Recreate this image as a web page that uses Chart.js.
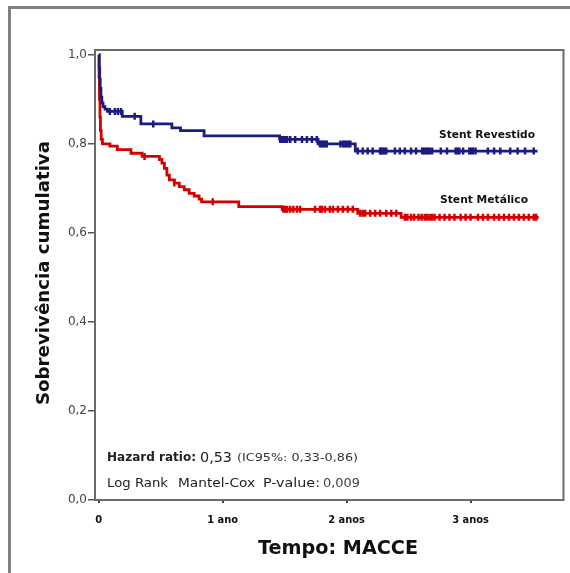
<!DOCTYPE html>
<html><head><meta charset="utf-8">
<script src="https://cdn.jsdelivr.net/npm/chart.js@4"></script>
<style>html,body{margin:0;padding:0;background:#fff;overflow:hidden}</style>
</head><body>
<canvas id="c" width="570" height="573"></canvas>
<script>
// Kaplan-Meier step data (time in years, cumulative survival)
const revestidoTimes = [0, 0.004, 0.008, 0.012, 0.018, 0.025, 0.035, 0.05, 0.07, 0.19, 0.34, 0.59, 0.66, 0.85, 1.46, 1.77, 2.07, 3.54];
const revestidoSurv  = [1.0, 0.97, 0.945, 0.925, 0.905, 0.892, 0.884, 0.878, 0.873, 0.862, 0.845, 0.836, 0.830, 0.818, 0.810, 0.800, 0.784, 0.784];
const revestidoCensored = [0.09, 0.13, 0.155, 0.18, 0.29, 0.44, 1.465, 1.475, 1.49, 1.505, 1.52, 1.545, 1.585, 1.64, 1.68, 1.72, 1.76, 1.785, 1.80, 1.81, 1.825, 1.84, 1.95, 1.97, 1.985, 2.0, 2.015, 2.03, 2.09, 2.13, 2.17, 2.21, 2.27, 2.28, 2.29, 2.305, 2.32, 2.39, 2.43, 2.47, 2.52, 2.56, 2.61, 2.625, 2.64, 2.655, 2.67, 2.69, 2.76, 2.81, 2.88, 2.895, 2.91, 2.94, 2.99, 3.005, 3.02, 3.04, 3.14, 3.19, 3.24, 3.32, 3.38, 3.44, 3.51];

const metalicoTimes = [0, 0.003, 0.006, 0.01, 0.014, 0.02, 0.03, 0.09, 0.15, 0.26, 0.35, 0.49, 0.51, 0.53, 0.55, 0.57, 0.61, 0.65, 0.69, 0.73, 0.77, 0.81, 0.83, 1.13, 1.48, 2.09, 2.44, 3.55];
const metalicoSurv  = [1.0, 0.95, 0.90, 0.86, 0.83, 0.81, 0.80, 0.795, 0.787, 0.779, 0.772, 0.765, 0.757, 0.745, 0.730, 0.719, 0.712, 0.704, 0.697, 0.689, 0.683, 0.676, 0.670, 0.659, 0.653, 0.644, 0.635, 0.635];
const metalicoCensored = [0.37, 0.61, 0.92, 1.49, 1.505, 1.52, 1.545, 1.57, 1.6, 1.625, 1.745, 1.785, 1.80, 1.825, 1.865, 1.89, 1.93, 1.97, 2.01, 2.05, 2.11, 2.13, 2.15, 2.19, 2.23, 2.27, 2.32, 2.36, 2.40, 2.47, 2.49, 2.52, 2.545, 2.58, 2.605, 2.63, 2.65, 2.67, 2.69, 2.71, 2.75, 2.79, 2.83, 2.87, 2.92, 2.96, 3.0, 3.06, 3.1, 3.14, 3.19, 3.23, 3.27, 3.31, 3.35, 3.39, 3.43, 3.47, 3.51, 3.53];

const xTickValues = [0, 1, 2, 3];
const xTickLabels = ['0', '1 ano', '2 anos', '3 anos'];
const yTickValues = [0, 0.2, 0.4, 0.6, 0.8, 1.0];
const seriesNames = ['Stent Revestido', 'Stent Metálico'];

const BLUE = '#1b1b80', RED = '#d20000';

function stepPoints(ts, ss){ return ts.map((t,i)=>({x:t,y:ss[i]})); }
function survAt(ts, ss, t){ let v = ss[0]; for(let i=0;i<ts.length;i++){ if(ts[i]<=t) v = ss[i]; } return v; }
function censorPoints(cs, ts, ss){ return cs.map(t=>({x:t,y:survAt(ts,ss,t)})); }

// draw text left-aligned at x, horizontally fitted to a target width
function fitText(ctx, text, x, y, w){
  const m = ctx.measureText(text).width;
  ctx.save(); ctx.translate(x, y); ctx.scale(w / m, 1);
  ctx.textAlign = 'left'; ctx.fillText(text, 0, 0); ctx.restore();
}

const decor = {
  id:'decor',
  beforeDraw(chart){
    const ctx = chart.ctx;
    ctx.save();
    ctx.fillStyle = '#fff'; ctx.fillRect(0,0,chart.width,chart.height);
    ctx.strokeStyle = '#7f7f7f'; ctx.lineWidth = 3;
    ctx.beginPath(); ctx.moveTo(9.5, 580); ctx.lineTo(9.5, 7.5); ctx.lineTo(580, 7.5); ctx.stroke();
    ctx.restore();
  },
  afterDraw(chart){
    const ctx = chart.ctx, a = chart.chartArea;
    ctx.save();
    ctx.strokeStyle = '#6a6a6a'; ctx.lineWidth = 2;
    ctx.strokeRect(a.left, a.top, a.right - a.left, a.bottom - a.top);
    ctx.fillStyle = '#111';
    ctx.textBaseline = 'middle';
    ctx.font = 'bold 18px "DejaVu Sans"';
    ctx.save(); ctx.translate(44, 405); ctx.rotate(-Math.PI/2);
    fitText(ctx, 'Sobrevivência cumulativa', 0, 0, 264); ctx.restore();
    ctx.font = 'bold 20px "DejaVu Sans"';
    fitText(ctx, 'Tempo: MACCE', 258, 549, 160);
    ctx.font = 'bold 11px "DejaVu Sans Condensed"';
    fitText(ctx, seriesNames[0], 439, 135, 96);
    fitText(ctx, seriesNames[1], 440, 200, 88);
    // statistics annotation
    ctx.fillStyle = '#222';
    ctx.font = 'bold 12px "DejaVu Sans Condensed"';
    fitText(ctx, 'Hazard ratio:', 107, 458, 89);
    ctx.font = '14px "DejaVu Sans"';
    fitText(ctx, '0,53', 200, 458, 32);
    ctx.fillStyle = '#333';
    ctx.font = '11px "DejaVu Sans"';
    fitText(ctx, '(IC95%: 0,33-0,86)', 237, 458, 121);
    ctx.fillStyle = '#222';
    ctx.font = '12px "DejaVu Sans Condensed"';
    fitText(ctx, 'Log Rank', 107, 484, 61);
    fitText(ctx, 'Mantel-Cox', 178, 484, 77);
    fitText(ctx, 'P-value:', 263, 484, 57);
    ctx.fillStyle = '#444';
    ctx.font = '12px "DejaVu Sans"';
    fitText(ctx, '0,009', 323, 484, 37);
    ctx.restore();
  }
};

new Chart(document.getElementById('c'), {
  type: 'line',
  data: {
    datasets: [
      { label: seriesNames[0], data: stepPoints(revestidoTimes, revestidoSurv), borderColor: BLUE, borderWidth: 2.8, stepped: 'before', pointRadius: 0, fill: false },
      { label: seriesNames[1], data: stepPoints(metalicoTimes, metalicoSurv), borderColor: RED, borderWidth: 2.8, stepped: 'before', pointRadius: 0, fill: false },
      { type: 'scatter', label: 'c1', data: censorPoints(revestidoCensored, revestidoTimes, revestidoSurv), showLine: false, pointStyle: 'line', rotation: 90, pointRadius: 3.5, borderColor: BLUE, borderWidth: 2.5 },
      { type: 'scatter', label: 'c2', data: censorPoints(metalicoCensored, metalicoTimes, metalicoSurv), showLine: false, pointStyle: 'line', rotation: 90, pointRadius: 3.5, borderColor: RED, borderWidth: 2.5 }
    ]
  },
  options: {
    responsive: false, animation: false, devicePixelRatio: 1,
    layout: { padding: { left: 0, top: 50, right: 4, bottom: 0 } },
    plugins: { legend: { display: false }, tooltip: { enabled: false } },
    scales: {
      x: {
        type: 'linear', min: -0.03, max: 3.75,
        afterBuildTicks: s => { s.ticks = xTickValues.map(v=>({value:v})); },
        afterFit: s => { s.height = 73; },
        grid: { drawOnChartArea: false, tickLength: 3, color: '#444', lineWidth: 2 },
        border: { display: false },
        ticks: { padding: 11, color: '#111', font: { family: 'DejaVu Sans Condensed', size: 11, weight: 'bold' }, maxRotation: 0,
          callback: (v) => { const i = xTickValues.indexOf(v); return i >= 0 ? xTickLabels[i] : ''; } }
      },
      y: {
        type: 'linear', min: 0, max: 1.011,
        afterBuildTicks: s => { s.ticks = yTickValues.map(v=>({value:v})); },
        afterFit: s => { s.width = 95; },
        grid: { drawOnChartArea: false, tickLength: 7, color: '#555', lineWidth: 1.5 },
        border: { display: false },
        ticks: { padding: 1, color: '#444', font: { family: 'DejaVu Sans', size: 12 },
          callback: v => v.toFixed(1).replace('.', ',') }
      }
    }
  },
  plugins: [decor]
});
</script>
</body></html>
